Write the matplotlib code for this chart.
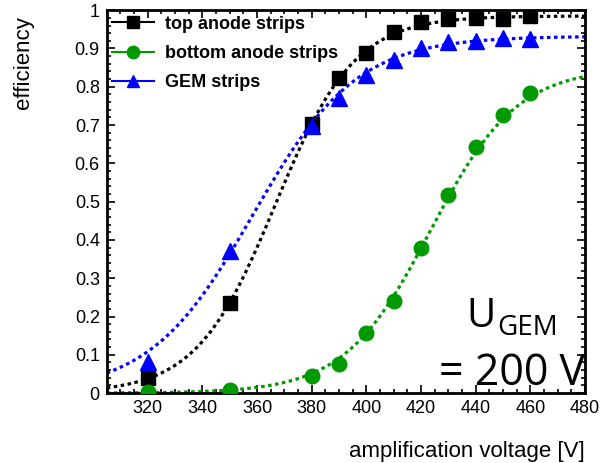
import numpy as np
import matplotlib
matplotlib.use('Agg')
from matplotlib import pyplot as plt
from matplotlib.lines import Line2D
from matplotlib.ticker import MultipleLocator, FormatStrFormatter

# amplification voltage scan, U_GEM = 200 V
voltage = [320, 350, 380, 390, 400, 410, 420, 430, 440, 450, 460]
eff_top = [0.040, 0.236, 0.704, 0.822, 0.887, 0.943, 0.968, 0.977, 0.980, 0.977, 0.984]
eff_bottom = [0.002, 0.008, 0.045, 0.077, 0.157, 0.241, 0.378, 0.517, 0.643, 0.726, 0.783]
eff_gem = [0.082, 0.372, 0.698, 0.770, 0.830, 0.870, 0.900, 0.917, 0.920, 0.928, 0.924]

# sigmoid fit results: plateau, midpoint [V], width [V]
fit_top = [0.985, 366.7, 14.5]
fit_bottom = [0.850, 423.5, 15.8]
fit_gem = [0.932, 358.5, 19.0]

labels = ['top anode strips', 'bottom anode strips', 'GEM strips']
colors = ['black', '#009a00', '#0000ff']
markers = ['s', 'o', '^']
msizes = [10, 10.5, 11]

x_range = [305, 480]


def sigmoid(v, pars):
	plateau, v0, w = pars
	return plateau / (1.0 + np.exp(-(v - v0) / w))


def main():
	fig = plt.figure(figsize=(6.0, 4.63), dpi=100)
	ax = fig.add_axes([0.178, 0.151, 0.797, 0.827])

	v_fit = np.linspace(x_range[0], x_range[1], 400)
	data = [eff_top, eff_bottom, eff_gem]
	fits = [fit_top, fit_bottom, fit_gem]

	# fit curves first, measured points on top
	for pars, col in zip(fits, colors):
		ax.plot(v_fit, sigmoid(v_fit, pars), color=col, lw=2.3,
				linestyle=(0, (1.1, 1.1)), zorder=2)
	for eff, col, mk, ms in zip(data, colors, markers, msizes):
		ax.plot(voltage, eff, linestyle='none', marker=mk, ms=ms,
				color=col, mec=col, zorder=3)

	ax.set_xlim(x_range)
	ax.set_ylim(0, 1)
	ax.xaxis.set_major_locator(MultipleLocator(20))
	ax.xaxis.set_minor_locator(MultipleLocator(5))
	ax.yaxis.set_major_locator(MultipleLocator(0.1))
	ax.yaxis.set_minor_locator(MultipleLocator(0.02))
	ax.yaxis.set_major_formatter(FormatStrFormatter('%g'))
	ax.set_xticks([v for v in range(320, 481, 20)])

	ax.tick_params(which='both', direction='in', top=True, right=True,
				   labelsize=13, width=1.2)
	ax.tick_params(which='major', length=6, pad=5)
	ax.tick_params(which='minor', length=3)
	for lab in ax.get_xticklabels() + ax.get_yticklabels():
		lab.set_family('Liberation Sans')
	for sp in ax.spines.values():
		sp.set_linewidth(2)

	ax.set_xlabel('amplification voltage [V]', fontsize=16,
				  family='Liberation Sans', loc='right')
	ax.xaxis.set_label_coords(1.0, -0.125)
	ax.set_ylabel('efficiency', fontsize=16, family='Liberation Sans',
				  loc='top')
	ax.yaxis.set_label_coords(-0.153, 0.985)

	handles = [Line2D([], [], color=c, marker=m, ms=ms * 0.85, lw=1.5)
			   for c, m, ms in zip(colors, markers, msizes)]
	ax.legend(handles, labels, loc='upper left', bbox_to_anchor=(0.0, 1.0),
			  frameon=False, handlelength=2.3, handletextpad=0.6,
			  labelspacing=0.68, borderaxespad=0.0, borderpad=0.3,
			  prop={'family': 'Liberation Sans', 'weight': 'bold', 'size': 13})

	# operating point annotation
	fig.text(0.778, 0.294, 'U', fontsize=29, family='Open Sans', va='baseline')
	fig.text(0.828, 0.276, 'GEM', fontsize=20, family='Open Sans', va='baseline')
	fig.text(0.975, 0.168, '= 200 V', fontsize=31, family='Open Sans',
			 va='baseline', ha='right')

	fig.savefig('out.png', dpi=100)


if __name__ == '__main__':
	main()
